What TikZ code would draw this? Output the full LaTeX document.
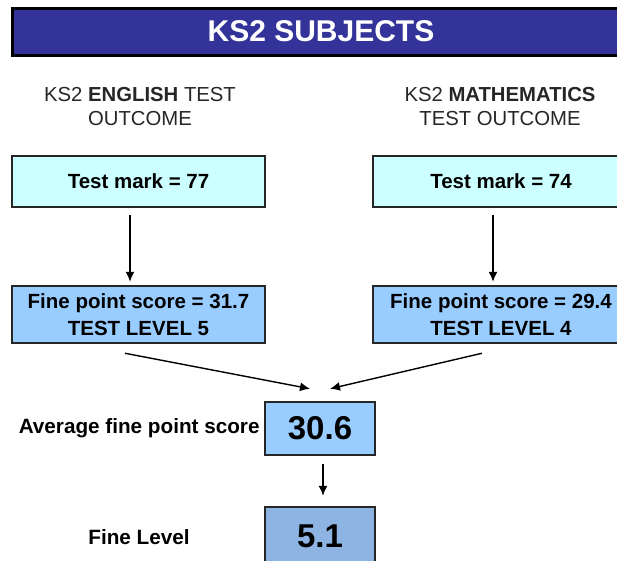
\documentclass[tikz,border=0pt]{standalone}
\usepackage{fontspec}
\setmainfont{Liberation Sans}
\usepackage{xcolor}
\usepackage{tikz}
\usetikzlibrary{arrows.meta,positioning,calc}

\definecolor{titleblue}{HTML}{333399}
\definecolor{markcyan}{HTML}{CCFFFF}
\definecolor{scoreblue}{HTML}{99CCFF}
\definecolor{levelblue}{HTML}{8DB4E2}

\begin{document}
\begin{tikzpicture}[
    x=1pt, y=-1pt,
    titlebar/.style={rectangle, draw=black, fill=titleblue, line width=3pt, minimum width=618pt, minimum height=47pt, text=white, font=\fontsize{30}{34}\selectfont\bfseries},
    heading/.style={align=center, font=\fontsize{20.3}{24}\selectfont, text=black!85},
    markbox/.style={rectangle, draw=black!85, fill=markcyan, line width=2.5pt, minimum height=51pt, font=\fontsize{20.5}{24}\selectfont\bfseries},
    scorebox/.style={rectangle, draw=black!85, fill=scoreblue, line width=2.5pt, minimum height=57pt, align=center, font=\fontsize{20.5}{27}\selectfont\bfseries},
    resultbox/.style={rectangle, draw=black!85, line width=2.5pt, minimum width=110pt, font=\fontsize{33}{36}\selectfont\bfseries},
    sidelabel/.style={font=\fontsize{20.7}{24}\selectfont\bfseries, inner sep=0pt},
    arrow/.style={-{Latex[length=10pt,width=9pt]}, line width=1.4pt}
]
    \useasboundingbox (0,0) rectangle (617,560);
    \clip (0,0) rectangle (617,560);

    % Title
    \node[titlebar] (title) at (321,31.5) {KS2 SUBJECTS};

    % Subject headings
    \node[heading] (english) at (140,107) {KS2 \textbf{ENGLISH} TEST\\OUTCOME};
    \node[heading] (maths) at (500,107) {KS2 \textbf{MATHEMATICS}\\TEST OUTCOME};

    % Test marks
    \node[markbox, minimum width=253pt] (engmark) at (138.5,181.5) {Test mark = 77};
    \node[markbox, minimum width=256pt] (mathmark) at (501,181.5) {Test mark = 74};

    % Fine point scores
    \node[scorebox, minimum width=253pt] (engfine) at (138.5,314.5) {Fine point score = 31.7\\TEST LEVEL 5};
    \node[scorebox, minimum width=256pt] (mathfine) at (501,314.5) {Fine point score = 29.4\\TEST LEVEL 4};

    % Results
    \node[resultbox, fill=scoreblue, minimum height=53pt] (avg) at (320,428.5) {30.6};
    \node[resultbox, fill=levelblue, minimum height=58pt] (level) at (320,536) {5.1};
    \node[sidelabel, left=4pt of avg] (avglabel) {Average fine point score};
    \node[sidelabel] (levellabel) at (139,537) {Fine Level};

    % Arrows
    \draw[arrow] ($(engmark.south)+(-8.5,7)$) -- ($(engfine.north)+(-8.5,-3)$);
    \draw[arrow] ($(mathmark.south)+(-8,7)$) -- ($(mathfine.north)+(-8,-3)$);
    \draw[arrow] ($(engfine.south)+(-13.5,9)$) -- ($(avg.north)+(-10,-12)$);
    \draw[arrow] ($(mathfine.south)+(-19,9)$) -- ($(avg.north)+(10,-12)$);
    \draw[arrow] ($(avg.south)+(3,8)$) -- ($(level.north)+(3,-10)$);
\end{tikzpicture}
\end{document}
